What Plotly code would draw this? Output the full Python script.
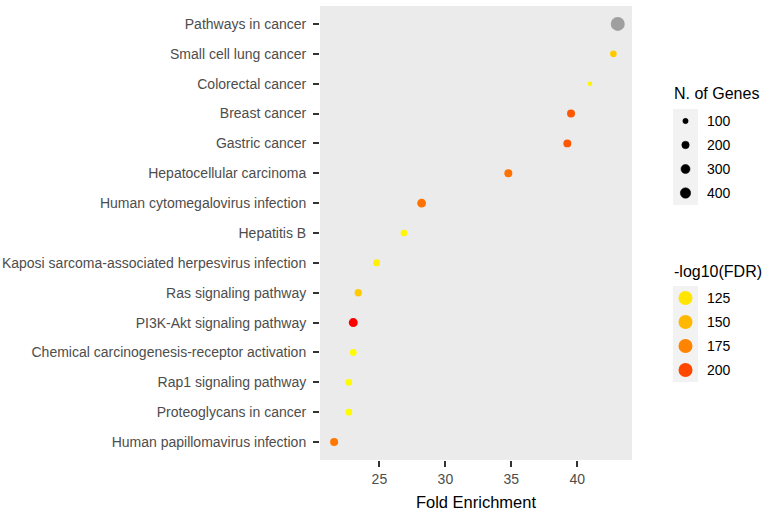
import math
import plotly.graph_objects as go

# ---------------- data ----------------
pathways = [
    "Pathways in cancer",
    "Small cell lung cancer",
    "Colorectal cancer",
    "Breast cancer",
    "Gastric cancer",
    "Hepatocellular carcinoma",
    "Human cytomegalovirus infection",
    "Hepatitis B",
    "Kaposi sarcoma-associated herpesvirus infection",
    "Ras signaling pathway",
    "PI3K-Akt signaling pathway",
    "Chemical carcinogenesis-receptor activation",
    "Rap1 signaling pathway",
    "Proteoglycans in cancer",
    "Human papillomavirus infection",
]
fold_enrichment = [43.06, 42.73, 40.96, 39.52, 39.24, 34.77, 28.20, 26.86,
                   24.79, 23.40, 23.02, 23.02, 22.69, 22.69, 21.57]
n_genes = [750, 164, 70, 237, 230, 235, 282, 164, 180, 196, 303, 164, 165, 165, 237]
neg_log10_fdr = [math.inf, 139, 117, 195, 195, 184, 184, 115, 118, 139, 214,
                 112, 112, 112, 181]

size_breaks = ["100", "200", "300", "400"]
color_breaks = ["125", "150", "175", "200"]

# ---------------- helpers ----------------
W, H = 768, 513
ML, MR, MT, MB = 5, 5, 6, 53
PW, PH = W - ML - MR, H - MT - MB


def px_x(px):
    return (px - ML) / PW


def px_y(py):
    return (H - MB - py) / PH


def gene_size(v):
    return 0.3 + 0.5 * math.sqrt(v)


def _lin(c):
    c = c / 255
    return c / 12.92 if c <= 0.04045 else ((c + 0.055) / 1.055) ** 2.4


def _gam(c):
    c = max(0.0, min(1.0, c))
    return 12.92 * c if c <= 0.0031308 else 1.055 * c ** (1 / 2.4) - 0.055


def _f(t):
    return t ** (1 / 3) if t > 0.008856 else 7.787 * t + 16 / 116


def _finv(t):
    return t ** 3 if t ** 3 > 0.008856 else (t - 16 / 116) / 7.787


def rgb_to_lab(rgb):
    r, g, b = (_lin(c) for c in rgb)
    X = (0.4124 * r + 0.3576 * g + 0.1805 * b) / 0.95047
    Y = 0.2126 * r + 0.7152 * g + 0.0722 * b
    Z = (0.0193 * r + 0.1192 * g + 0.9505 * b) / 1.08883
    return 116 * _f(Y) - 16, 500 * (_f(X) - _f(Y)), 200 * (_f(Y) - _f(Z))


def lab_to_rgb(lab):
    L, a, b = lab
    fy = (L + 16) / 116
    X = _finv(fy + a / 500) * 0.95047
    Y = _finv(fy)
    Z = _finv(fy - b / 200) * 1.08883
    r = 3.2406 * X - 1.5372 * Y - 0.4986 * Z
    g = -0.9689 * X + 1.8758 * Y + 0.0415 * Z
    bb = 0.0557 * X - 0.2040 * Y + 1.0570 * Z
    return "rgb(%d,%d,%d)" % tuple(round(255 * _gam(c)) for c in (r, g, bb))


lo, hi = rgb_to_lab((255, 255, 0)), rgb_to_lab((255, 0, 0))
colorscale = []
for i in range(21):
    t = i / 20
    colorscale.append([t, lab_to_rgb(tuple(lo[k] + (hi[k] - lo[k]) * t for k in range(3)))])
CMIN, CMAX = 110, 212

FONT = "Liberation Sans, Arial, sans-serif"

# ---------------- figure ----------------
fig = go.Figure()

fin_idx = [i for i, v in enumerate(neg_log10_fdr) if math.isfinite(v)]
na_idx = [i for i, v in enumerate(neg_log10_fdr) if not math.isfinite(v)]

fig.add_trace(go.Scatter(
    x=[fold_enrichment[i] for i in fin_idx],
    y=[pathways[i] for i in fin_idx],
    mode="markers",
    marker=dict(size=[gene_size(n_genes[i]) for i in fin_idx],
                color=[neg_log10_fdr[i] for i in fin_idx],
                colorscale=colorscale, cmin=CMIN, cmax=CMAX,
                line=dict(width=0), opacity=1),
    showlegend=False, xaxis="x", yaxis="y", cliponaxis=False,
))
fig.add_trace(go.Scatter(
    x=[fold_enrichment[i] for i in na_idx],
    y=[pathways[i] for i in na_idx],
    mode="markers",
    marker=dict(size=[gene_size(n_genes[i]) for i in na_idx],
                color="#7F7F7F", line=dict(width=0)),
    showlegend=False, xaxis="x", yaxis="y", cliponaxis=False,
))

# size legend keys
fig.add_trace(go.Scatter(
    x=[0.5] * len(size_breaks), y=list(range(len(size_breaks))), mode="markers",
    marker=dict(size=[gene_size(float(s)) for s in size_breaks], color="#000000",
                line=dict(width=0.6, color="#000000"), opacity=1),
    showlegend=False, xaxis="x2", yaxis="y2", hoverinfo="skip",
))
# colour legend keys
fig.add_trace(go.Scatter(
    x=[0.5] * len(color_breaks), y=list(range(len(color_breaks))), mode="markers",
    marker=dict(size=14, color=[float(c) for c in color_breaks],
                colorscale=colorscale, cmin=CMIN, cmax=CMAX, line=dict(width=0)),
    showlegend=False, xaxis="x3", yaxis="y3", hoverinfo="skip",
))

shapes = [
    dict(type="rect", xref="x domain", yref="y domain", x0=0, x1=1, y0=0, y1=1,
         fillcolor="#EBEBEB", line=dict(width=0), layer="below"),
    dict(type="rect", xref="x2 domain", yref="y2 domain", x0=0, x1=1, y0=0, y1=1,
         fillcolor="#F2F2F2", line=dict(width=0), layer="below"),
    dict(type="rect", xref="x3 domain", yref="y3 domain", x0=0, x1=1, y0=0, y1=1,
         fillcolor="#F2F2F2", line=dict(width=0), layer="below"),
]

annotations = [
    dict(text="N. of Genes", xref="paper", yref="paper", x=px_x(672), y=px_y(94),
         xanchor="left", yanchor="middle", showarrow=False,
         font=dict(family=FONT, size=16, color="black")),
    dict(text="-log10(FDR)", xref="paper", yref="paper", x=px_x(672), y=px_y(271),
         xanchor="left", yanchor="middle", showarrow=False,
         font=dict(family=FONT, size=16, color="black")),
]
for i, s in enumerate(size_breaks):
    annotations.append(dict(text=s, xref="paper", yref="y2", x=px_x(705), y=i,
                            xanchor="left", yanchor="middle", showarrow=False,
                            font=dict(family=FONT, size=14, color="black")))
for i, c in enumerate(color_breaks):
    annotations.append(dict(text=c, xref="paper", yref="y3", x=px_x(705), y=i,
                            xanchor="left", yanchor="middle", showarrow=False,
                            font=dict(family=FONT, size=14, color="black")))

n = len(pathways)
fig.update_layout(
    width=W, height=H,
    margin=dict(l=ML, r=MR, t=MT, b=MB, pad=0),
    paper_bgcolor="white", plot_bgcolor="rgba(0,0,0,0)",
    font=dict(family=FONT, color="#4D4D4D", size=14),
    showlegend=False,
    xaxis=dict(domain=[px_x(320), px_x(632)], range=[20.5, 44.14], dtick=5, tick0=25,
               showgrid=False, zeroline=False, showline=False,
               ticks="outside", ticklen=6, tickwidth=1.7, tickcolor="#333333",
               tickfont=dict(family=FONT, size=14, color="#4D4D4D"),
               title=dict(text="Fold Enrichment", standoff=10,
                          font=dict(family=FONT, size=16.5, color="black")),
               anchor="y", automargin=False),
    yaxis=dict(domain=[0, 1], type="category", categoryorder="array",
               categoryarray=pathways, range=[n - 1 + 0.6, -0.6],
               showgrid=False, zeroline=False, showline=False,
               ticks="outside", ticklen=6, tickwidth=1.7, tickcolor="#333333",
               ticklabelstandoff=4,
               tickfont=dict(family=FONT, size=14, color="#4D4D4D"),
               anchor="x", automargin=False),
    xaxis2=dict(domain=[px_x(673), px_x(698)], range=[0, 1], visible=False, anchor="y2"),
    yaxis2=dict(domain=[px_y(205), px_y(109)], range=[3.5, -0.5], visible=False, anchor="x2"),
    xaxis3=dict(domain=[px_x(673), px_x(698)], range=[0, 1], visible=False, anchor="y3"),
    yaxis3=dict(domain=[px_y(382), px_y(286)], range=[3.5, -0.5], visible=False, anchor="x3"),
    shapes=shapes,
    annotations=annotations,
)

fig.write_html("out.html", config={"displayModeBar": False},
               post_script="document.body.style.margin='0';")
